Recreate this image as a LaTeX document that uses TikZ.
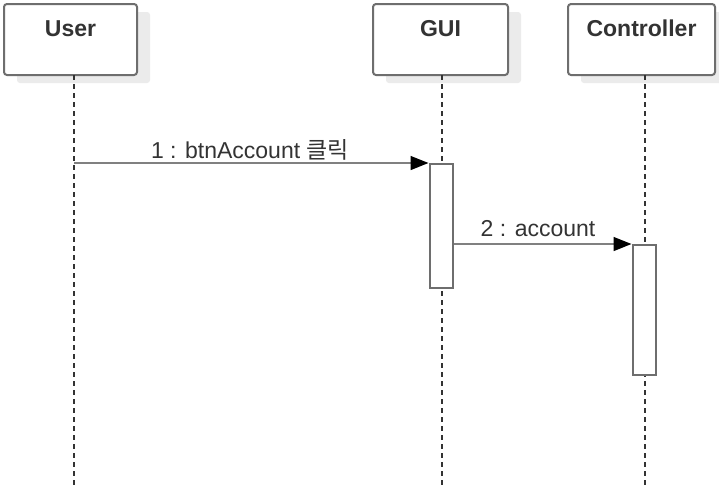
\documentclass[tikz,border=0pt]{standalone}
\usepackage{fontspec}
\setmainfont{Liberation Sans}
\newfontfamily\krfont{Noto Sans CJK KR}
\usetikzlibrary{arrows.meta,shadows}
\definecolor{boxgray}{HTML}{6E6E6E}
\definecolor{linegray}{HTML}{808080}
\definecolor{shadowgray}{HTML}{EBEBEB}
\definecolor{txt}{HTML}{333333}
\begin{document}
\begin{tikzpicture}[x=1pt,y=-1pt,
  actor/.style={draw=boxgray, line width=2pt, rounded corners=3pt, fill=white,
    minimum height=71pt, inner sep=0pt,
    drop shadow={shadow xshift=13pt, shadow yshift=-8pt, fill=shadowgray, opacity=1}},
  actorlabel/.style={font=\fontsize{23}{27}\selectfont\bfseries, text=txt},
  lifeline/.style={draw=txt, line width=1.2pt, dash pattern=on 5pt off 4pt},
  activation/.style={draw=boxgray, line width=2pt, fill=white, minimum width=23pt, inner sep=0pt, anchor=north},
  msg/.style={draw=linegray, line width=1.5pt, -{Triangle[length=18pt,width=14pt,black]}},
  msglabel/.style={font=\fontsize{23}{27}\selectfont, text=txt, anchor=base, inner sep=0pt}]
\useasboundingbox (0,0) rectangle (719,488);
\fill[white] (0,0) rectangle (719,488);
% actors
\node[actor, minimum width=133pt, label={[actorlabel, yshift=11pt]center:User}] (user) at (70.5,39.5) {};
\node[actor, minimum width=135pt, label={[actorlabel, yshift=11pt]center:GUI}] (gui) at (440.5,39.5) {};
\node[actor, minimum width=147pt, label={[actorlabel, yshift=11pt]center:Controller}] (ctrl) at (641.5,39.5) {};
% lifeline coordinates
\coordinate (utop) at (74,75);
\coordinate (ubot) at (74,488);
\coordinate (gtop) at (442,75);
\coordinate (gbot) at (442,488);
\coordinate (ctop) at (645,75);
\coordinate (cbot) at (645,488);
\coordinate (um1) at (74,163);
\draw[lifeline] (utop) -- (ubot);
\draw[lifeline] (gtop) -- (gbot);
\draw[lifeline] (ctop) -- (cbot);
% activations
\node[activation, minimum height=124pt] (gact) at (441,163) {};
\node[activation, minimum height=130pt] (cact) at (644,244) {};
% messages
\draw[msg] (um1) -- (gact.north west);
\node[msglabel] (l1) at (250,158) {1 : btnAccount {\krfont 클릭}};
\coordinate (gm2) at (gact.east |- cact.north);
\draw[msg] (gm2) -- (cact.north west);
\node[msglabel] (l2) at (538,236) {2 : account};
\end{tikzpicture}
\end{document}
